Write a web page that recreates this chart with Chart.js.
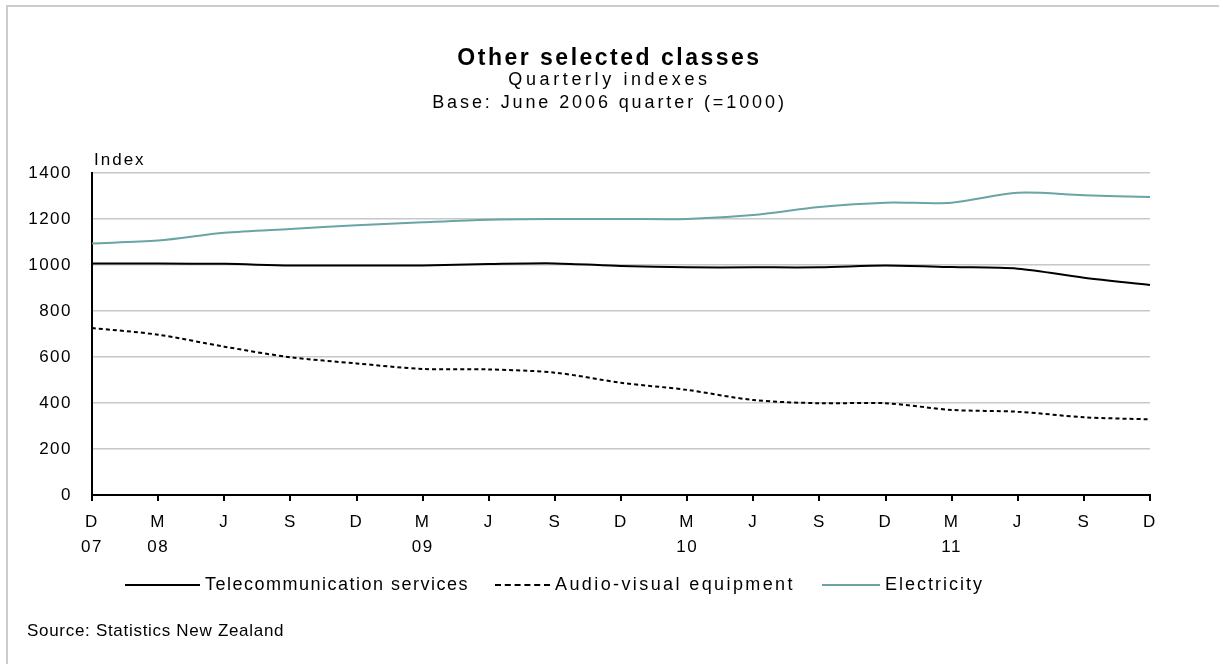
<!DOCTYPE html>
<html>
<head>
<meta charset="utf-8">
<script src="https://cdn.jsdelivr.net/npm/chart.js@4.4.0/dist/chart.umd.min.js"></script>
<style>
  body { margin: 0; background: #fff; font-family: "Liberation Sans", Arial, sans-serif; }
  #wrap { position: relative; width: 1219px; height: 664px; overflow: hidden; }
  #frame { position: absolute; left: 6px; top: 5px; width: 1230px; height: 700px;
           border-left: 2px solid #cccccc; border-top: 2px solid #cccccc; }
  canvas { position: absolute; left: 0; top: 0; }
  .txt { position: absolute; color: #000; white-space: nowrap; }
  #titulo { left: 0; width: 1219px; top: 44px; text-align: center; font-weight: bold; font-size: 23px; letter-spacing: 2.5px; }
  #sub1 { left: 0; width: 1219px; top: 69px; text-align: center; font-size: 18px; letter-spacing: 3.6px; }
  #sub2 { left: 0; width: 1219px; top: 92px; text-align: center; font-size: 18px; letter-spacing: 2.9px; }
  #eixoY { left: 94px; top: 150px; font-size: 17px; letter-spacing: 2px; }
  #fonte { left: 27px; top: 621px; font-size: 17px; letter-spacing: 0.7px; }
  .item { position: absolute; top: 574px; display: flex; align-items: center; font-size: 18px; white-space: nowrap; }
  .amostra { height: 0; margin-right: 5px; }
</style>
</head>
<body>
<div id="wrap">
  <div id="frame"></div>
  <canvas id="grafico" width="1219" height="664"></canvas>
  <div class="txt" id="titulo">Other selected classes</div>
  <div class="txt" id="sub1">Quarterly indexes</div>
  <div class="txt" id="sub2">Base: June 2006 quarter (=1000)</div>
  <div class="txt" id="eixoY">Index</div>
  <div id="legenda"></div>
  <div class="txt" id="fonte">Source: Statistics New Zealand</div>
</div>
<script>
// dados (indice trimestral, base jun/2006 = 1000)
const trimestres = ['D','M','J','S','D','M','J','S','D','M','J','S','D','M','J','S','D'];
const anos = ['07','08','','','','09','','','','10','','','','11','','',''];

const telecom = [1006, 1006, 1005, 998, 998, 998, 1004, 1007, 996, 990, 990, 990, 998, 991, 984, 945, 913];
const audioVisual = [726, 697, 645, 599, 572, 548, 546, 532, 488, 457, 413, 399, 399, 370, 362, 338, 329];
const eletricidade = [1094, 1106, 1140, 1157, 1173, 1186, 1197, 1200, 1200, 1200, 1217, 1252, 1271, 1271, 1314, 1303, 1296];

const yTicks = [0, 200, 400, 600, 800, 1000, 1200, 1400];

const series = [
    { nome: 'Telecommunication services', dados: telecom, cor: '#000000', tracejado: [] },
    { nome: 'Audio-visual equipment', dados: audioVisual, cor: '#000000', tracejado: [4, 3] },
    { nome: 'Electricity', dados: eletricidade, cor: '#6aa4a4', tracejado: [] }
];

let labels = trimestres.map((q, i) => [q, anos[i]]);

// legenda em HTML (posicoes de cada item como no original)
const legPos = [
    { left: 125, larg: 75, esp: '1.5px' },
    { left: 495, larg: 55, esp: '2.4px' },
    { left: 822, larg: 58, esp: '2px' }
];
let legHTML = '';
series.forEach((s, i) => {
    let borda = s.tracejado.length ? `2px dashed ${s.cor}` : `2px solid ${s.cor}`;
    let p = legPos[i];
    legHTML += `<div class="item" style="left:${p.left}px;letter-spacing:${p.esp}"><div class="amostra" style="border-top:${borda};width:${p.larg}px"></div>${s.nome}</div>`;
});
document.getElementById('legenda').innerHTML = legHTML;

const espacamento = {
    id: 'espacamento',
    beforeDraw(chart) { chart.ctx.letterSpacing = '1.5px'; }
};

new Chart(document.getElementById('grafico'), {
    type: 'line',
    data: {
        labels: labels,
        datasets: series.map(s => ({
            label: s.nome,
            data: s.dados,
            borderColor: s.cor,
            borderWidth: 2,
            borderDash: s.tracejado,
            pointRadius: 0,
            tension: 0.3,
            fill: false
        }))
    },
    options: {
        responsive: false,
        animation: false,
        layout: { padding: { left: 0, right: 69, top: 173, bottom: 109 } },
        plugins: { legend: { display: false }, tooltip: { enabled: false } },
        scales: {
            x: {
                offset: false,
                afterFit: s => { s.height = 60; },
                grid: { drawOnChartArea: false, drawTicks: true, tickLength: 6, color: '#000', lineWidth: 2 },
                border: { color: '#000', width: 2 },
                ticks: { color: '#000', font: { family: 'Liberation Sans', size: 17, lineHeight: 1.45 }, padding: 9, maxRotation: 0, autoSkip: false }
            },
            y: {
                min: 0, max: 1400,
                afterFit: s => { s.width = 92; },
                afterBuildTicks: s => { s.ticks = yTicks.map(v => ({ value: v })); },
                grid: { color: '#c8c8c8', lineWidth: 1.5, drawTicks: false },
                border: { color: '#000', width: 2 },
                ticks: { color: '#000', font: { family: 'Liberation Sans', size: 17 }, padding: 20, callback: v => String(v) }
            }
        }
    },
    plugins: [espacamento]
});
</script>
</body>
</html>
